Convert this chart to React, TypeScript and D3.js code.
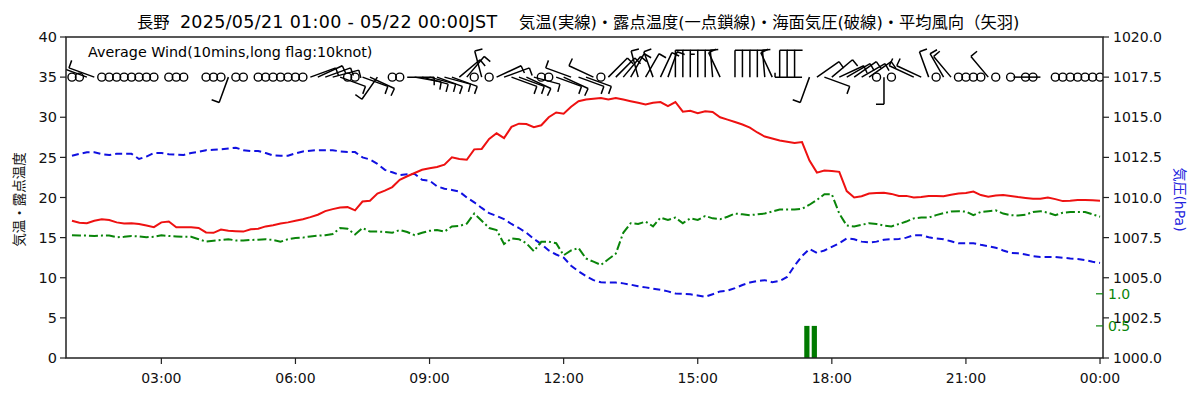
import React from "react";
import * as d3 from "d3";

const titleStation = "長野";
const titlePeriod = "2025/05/21 01:00 - 05/22 00:00JST";
const titleSeries = " 　気温(実線)・露点温度(一点鎖線)・海面気圧(破線)・平均風向（矢羽)";
const windNote = "Average Wind(10mins,long flag:10knot)";
const leftLabel = "気温・露点温度";
const rightLabel = "気圧(hPa)";

// 10-minute observations from 05/21 01:00 to 05/22 00:00
const startYear = 2025, startMonth = 4, startDay = 21, startHour = 1;
const stepMinutes = 10;

const temp = [
  17.1, 16.85, 16.8, 17.1, 17.3, 17.2, 16.9, 16.75, 16.8, 16.7,
  16.5, 16.3, 16.9, 17.0, 16.3, 16.3, 16.3, 16.2, 15.65, 15.6,
  16.0, 15.85, 15.8, 15.75, 16.05, 16.1, 16.4, 16.55, 16.75, 16.9,
  17.1, 17.3, 17.55, 17.85, 18.3, 18.55, 18.75, 18.8, 18.4, 19.5,
  19.6, 20.5, 20.85, 21.3, 22.2, 22.65, 23.05, 23.45, 23.65, 23.8,
  24.1, 25.0, 24.8, 24.7, 26.0, 26.05, 27.3, 28.0, 27.4, 28.8,
  29.2, 29.15, 28.75, 29.0, 30.0, 30.6, 30.45, 31.3, 32.0, 32.2,
  32.3, 32.4, 32.2, 32.4, 32.2, 32.0, 31.8, 31.6, 31.8, 31.9,
  31.4, 31.9, 30.7, 30.8, 30.5, 30.75, 30.65, 30.0, 29.7, 29.4,
  29.1, 28.7, 28.1, 27.6, 27.35, 27.1, 26.95, 26.8, 26.9, 24.6,
  23.1, 23.35, 23.3, 23.2, 20.8, 20.0, 20.15, 20.5, 20.55, 20.6,
  20.45, 20.2, 20.2, 20.0, 20.05, 20.2, 20.2, 20.15, 20.35, 20.5,
  20.55, 20.75, 20.3, 20.1, 20.25, 20.3, 20.2, 20.05, 19.95, 19.85,
  19.85, 20.0, 19.8, 19.55, 19.6, 19.7, 19.7, 19.65, 19.6,
];

const dew = [
  15.3, 15.25, 15.25, 15.2, 15.25, 15.25, 15.05, 15.1, 15.2, 15.15,
  15.05, 15.1, 15.3, 15.2, 15.15, 15.1, 15.1, 14.8, 14.5, 14.6,
  14.7, 14.8, 14.65, 14.65, 14.7, 14.75, 14.8, 14.7, 14.5, 14.8,
  14.95, 15.0, 15.15, 15.25, 15.3, 15.45, 16.2, 16.1, 15.4, 16.2,
  15.75, 15.75, 15.7, 15.6, 15.95, 15.7, 15.3, 15.6, 15.85, 15.95,
  15.75, 16.4, 16.45, 16.75, 18.0, 17.1, 16.2, 15.95, 14.2, 14.9,
  14.8, 14.3, 13.3, 14.5, 14.5, 14.3, 12.8, 13.4, 13.7, 12.4,
  12.0, 11.6, 12.3, 13.0, 15.6, 16.8, 16.7, 17.0, 16.4, 17.5,
  17.2, 17.5, 16.8, 17.4, 17.2, 17.7, 17.4, 17.3, 17.6, 18.0,
  17.9, 17.8, 17.9, 18.0, 18.25, 18.5, 18.5, 18.5, 18.6, 19.1,
  19.7, 20.4, 20.4, 18.0, 16.5, 16.4, 16.6, 16.8, 16.7, 16.5,
  16.4, 16.7, 17.0, 17.4, 17.5, 17.5, 17.8, 18.05, 18.25, 18.3,
  18.25, 17.8, 18.2, 18.3, 18.4, 18.0, 17.8, 17.75, 17.85, 18.2,
  18.3, 18.1, 17.8, 18.1, 18.2, 18.2, 18.2, 17.9, 17.6,
];

const pressure = [
  1012.6, 1012.72, 1012.82, 1012.82, 1012.7, 1012.65, 1012.72, 1012.72, 1012.72, 1012.4,
  1012.55, 1012.77, 1012.77, 1012.7, 1012.67, 1012.65, 1012.77, 1012.85, 1012.95, 1012.97,
  1013.0, 1013.05, 1013.1, 1012.95, 1012.9, 1012.9, 1012.77, 1012.62, 1012.6, 1012.6,
  1012.75, 1012.87, 1012.92, 1012.95, 1012.95, 1012.95, 1012.87, 1012.83, 1012.83, 1012.5,
  1012.37, 1012.1, 1011.72, 1011.57, 1011.4, 1011.45, 1011.47, 1011.1, 1011.05, 1010.7,
  1010.55, 1010.47, 1010.37, 1010.0, 1009.7, 1009.35, 1009.02, 1008.85, 1008.65, 1008.35,
  1008.1, 1007.8, 1007.42, 1007.1, 1006.7, 1006.45, 1006.25, 1005.75, 1005.4, 1005.1,
  1004.85, 1004.72, 1004.7, 1004.7, 1004.65, 1004.57, 1004.47, 1004.4, 1004.32, 1004.25,
  1004.15, 1004.02, 1004.0, 1003.97, 1003.9, 1003.82, 1003.97, 1004.15, 1004.2, 1004.35,
  1004.55, 1004.7, 1004.8, 1004.85, 1004.72, 1004.8, 1005.05, 1005.75, 1006.35, 1006.8,
  1006.55, 1006.7, 1006.92, 1007.15, 1007.45, 1007.4, 1007.25, 1007.2, 1007.25, 1007.37,
  1007.4, 1007.42, 1007.5, 1007.65, 1007.65, 1007.52, 1007.45, 1007.4, 1007.27, 1007.15,
  1007.15, 1007.15, 1007.05, 1006.97, 1006.87, 1006.7, 1006.55, 1006.52, 1006.45, 1006.35,
  1006.3, 1006.3, 1006.3, 1006.25, 1006.2, 1006.17, 1006.1, 1006.0, 1005.92,
];

// wind: direction in degrees (null when calm or missing), speed in knots (0 = calm, null = missing)
const windDir: (number | null)[] = [
  null, null, 290, 290, null, null, null, null, null, null,
  null, null, null, null, null, null, null, null, null, null,
  null, 200, null, null, null, null, null, null, null, null,
  null, null, 70, 65, 70, 75, 110, null, null, 110,
  115, 215, null, null, null, 90, 100, 105, 105, 110,
  105, 110, 50, 40, null, 345, null, 65, 70, 110,
  110, 115, 105, null, null, 110, 115, 290, 110, 110,
  295, null, 45, 45, 40, 30, 345, 30, 340, 25,
  20, 0, 0, 0, 0, 0, 355, 335, null, 0,
  0, 0, 0, 355, 335, 0, 0, 0, 270, 200,
  55, 110, 50, 65, 60, 55, 60, 55, null, 180,
  null, null, null, 295, 295, 340, null, 330, 320, null,
  null, null, null, 320, null, null, null, null, null, null,
  270, null, null, null, null, null, null, null, null,
];

const windKt: (number | null)[] = [
  0, 0, 10, 10, 0, 0, 0, 0, 0, 0,
  0, 0, null, 0, 0, 0, null, null, 0, 0,
  0, 10, 0, 0, null, 0, 0, 0, 0, 0,
  0, 0, 10, 10, 10, 10, 10, 0, 0, 10,
  10, 10, null, 0, 0, 10, 10, 10, 10, 10,
  10, 10, 10, 10, 0, 10, 0, 10, 10, 10,
  10, 10, 10, 0, 0, 10, 10, 10, 10, 10,
  10, 0, 10, 10, 10, 10, 10, 10, 10, 10,
  10, 10, 10, 15, 10, 10, 10, 10, null, 10,
  10, 10, 10, 10, 10, 10, 10, 10, 5, 10,
  10, 10, 10, 10, 10, 10, 10, 10, 0, 10,
  0, null, null, 10, 10, 10, 0, 10, 10, 0,
  0, 0, 0, 10, 0, null, 0, null, 0, 0,
  3, null, 0, 0, 0, 0, 0, 0, 0,
];

// 10-min precipitation (mm) ending at given index
const rainIndex = [99, 100];
const rainMm = [0.5, 0.5];

const xTickLabels = ["03:00", "06:00", "09:00", "12:00", "15:00", "18:00", "21:00", "00:00"];
const leftTicks = [0, 5, 10, 15, 20, 25, 30, 35, 40];
const rightTicks = [1000, 1002.5, 1005, 1007.5, 1010, 1012.5, 1015, 1017.5, 1020];
const rainTicks = [0.5, 1.0];

const FONT = '"DejaVu Sans", "Noto Sans CJK JP", sans-serif';
const CJK = '"Noto Sans CJK JP", "DejaVu Sans", sans-serif';

export default function App() {
  const W = 1200, H = 400;
  const left = 66, right = 1103, top = 37, bottom = 358;

  const t0 = new Date(startYear, startMonth, startDay, startHour, 0).getTime();
  const times = temp.map((_, i) => new Date(t0 + i * stepMinutes * 60000));
  const x = d3
    .scaleTime()
    .domain([new Date(t0 - 8 * 60000), new Date(t0 + (23 * 60 + 4) * 60000)])
    .range([left, right]);
  const yL = d3.scaleLinear().domain([0, 40]).range([bottom, top]);
  const yR = d3.scaleLinear().domain([1000, 1020]).range([bottom, top]);
  const yRain = d3.scaleLinear().domain([0, 5]).range([bottom, top]);

  const lineL = d3.line<number>().x((_, i) => x(times[i])).y((d) => yL(d));
  const lineR = d3.line<number>().x((_, i) => x(times[i])).y((d) => yR(d));

  const tickTimes = xTickLabels.map((lab) => {
    const h = +lab.slice(0, 2);
    return new Date(startYear, startMonth, h === 0 ? startDay + 1 : startDay, h, 0);
  });

  const yW = yL(35);
  const L = 27;
  const barbs = windKt.map((kt, i) => {
    if (kt === null) return null;
    const cx = x(times[i]);
    if (kt === 0) {
      return <circle key={i} cx={cx} cy={yW} r={4} fill="none" stroke="#000" strokeWidth={1.4} />;
    }
    const th = ((windDir[i] as number) * Math.PI) / 180;
    const ux = Math.sin(th), uy = -Math.cos(th);
    const px = Math.cos(th), py = Math.sin(th);
    const ex = cx + L * ux, ey = yW + L * uy;
    let d = `M${cx},${yW}L${ex},${ey}`;
    let rem = kt;
    let k = 0;
    while (rem >= 10) {
      const bx = ex - k * 4 * ux, by = ey - k * 4 * uy;
      d += `M${bx},${by}l${8 * px},${8 * py}`;
      rem -= 10;
      k++;
    }
    if (rem >= 5) {
      const bx = ex - k * 4 * ux, by = ey - k * 4 * uy;
      d += `M${bx},${by}l${4.5 * px},${4.5 * py}`;
    }
    return <path key={i} d={d} fill="none" stroke="#000" strokeWidth={1.5} strokeLinecap="butt" />;
  });

  return (
    <svg
      width={W}
      height={H}
      style={{ position: "absolute", left: 0, top: 0, background: "#fff" }}
      fontFamily={FONT}
    >
      <rect x={0} y={0} width={W} height={H} fill="#fff" />
      <defs>
        <clipPath id="plotClip">
          <rect x={left} y={top} width={right - left} height={bottom - top} />
        </clipPath>
      </defs>

      <text x={137} y={28} fill="#000" style={{ whiteSpace: "pre" }}>
        <tspan fontFamily={CJK} fontSize={16.3}>{titleStation}</tspan>
        <tspan fontSize={16.3}>{"  "}</tspan>
        <tspan fontSize={17.5} letterSpacing={0.3}>{titlePeriod}</tspan>
        <tspan fontSize={16.3}>{titleSeries}</tspan>
      </text>

      {/* rain bars */}
      {rainIndex.map((idx, j) => {
        const t = times[idx];
        const x1 = x(t);
        const x0 = x(new Date(t.getTime() - 7 * 60000));
        return (
          <rect key={j} x={x0} y={yRain(rainMm[j])} width={x1 - x0} height={yRain(0) - yRain(rainMm[j])} fill="#007a00" />
        );
      })}

      <g clipPath="url(#plotClip)">
        <path d={lineR(pressure) || ""} fill="none" stroke="#1010e0" strokeWidth={2} strokeDasharray="7,4" />
        <path d={lineL(dew) || ""} fill="none" stroke="#0a850a" strokeWidth={2} strokeDasharray="9,3,2,3" />
        <path d={lineL(temp) || ""} fill="none" stroke="#ee1111" strokeWidth={2} />
        {barbs}
      </g>

      <text x={88} y={57} fontSize={14.3} fill="#000">
        {windNote}
      </text>

      {/* frame */}
      <rect x={left} y={top} width={right - left} height={bottom - top} fill="none" stroke="#222" strokeWidth={1.5} />

      {/* left axis */}
      {leftTicks.map((v) => (
        <g key={v}>
          <line x1={left - 6} x2={left} y1={yL(v)} y2={yL(v)} stroke="#222" strokeWidth={1.2} />
          <text x={left - 9} y={yL(v)} dy="0.36em" textAnchor="end" fontSize={14.5} fill="#111">
            {v}
          </text>
        </g>
      ))}
      <text
        transform={`translate(24,${(top + bottom) / 2 + 2}) rotate(-90)`}
        textAnchor="middle"
        fontSize={13.5}
        fontFamily={CJK}
        fill="#111"
      >
        {leftLabel}
      </text>

      {/* right axis */}
      {rightTicks.map((v) => (
        <g key={v}>
          <line x1={right} x2={right + 6} y1={yR(v)} y2={yR(v)} stroke="#222" strokeWidth={1.2} />
          <text x={right + 10} y={yR(v)} dy="0.36em" textAnchor="start" fontSize={14} fill="#111">
            {v.toFixed(1)}
          </text>
        </g>
      ))}
      {rainTicks.map((v) => (
        <g key={v}>
          <line x1={right - 7} x2={right} y1={yRain(v)} y2={yRain(v)} stroke="#0a850a" strokeWidth={1.2} />
          <text x={right + 5} y={yRain(v)} dy="0.36em" textAnchor="start" fontSize={14} fill="#0a850a">
            {v.toFixed(1)}
          </text>
        </g>
      ))}
      <text
        transform={`translate(1175,${(top + bottom) / 2 + 2}) rotate(90)`}
        textAnchor="middle"
        fontSize={14}
        fill="#2222dd"
      >
        <tspan fontFamily={CJK}>気圧</tspan>
        <tspan>{rightLabel.slice(2)}</tspan>
      </text>

      {/* bottom axis */}
      {tickTimes.map((t, i) => (
        <g key={i}>
          <line x1={x(t)} x2={x(t)} y1={bottom} y2={bottom + 6} stroke="#222" strokeWidth={1.2} />
          <text x={x(t)} y={bottom + 25} textAnchor="middle" fontSize={14} fill="#111">
            {xTickLabels[i]}
          </text>
        </g>
      ))}
    </svg>
  );
}
